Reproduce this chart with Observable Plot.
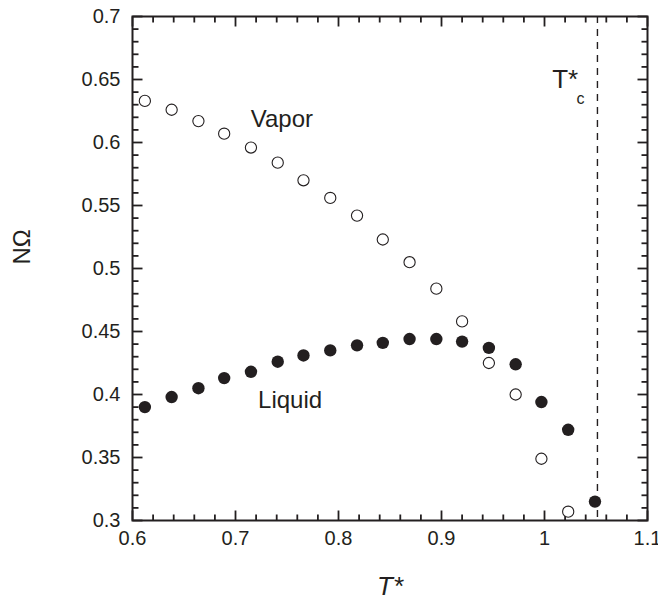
<!DOCTYPE html>
<html>
<head>
<meta charset="utf-8">
<script src="https://cdn.jsdelivr.net/npm/d3@7"></script>
<script src="https://cdn.jsdelivr.net/npm/@observablehq/plot@0.6"></script>
<style>
  html, body { margin: 0; padding: 0; background: #fff; }
  #chart { width: 658px; height: 606px; }
</style>
</head>
<body>
<div id="chart"></div>
<script>
// Reduced temperature T*
const temperature = [0.612, 0.638, 0.664, 0.689, 0.715, 0.741, 0.766, 0.792, 0.818, 0.843, 0.869, 0.895, 0.920, 0.946, 0.972, 0.997, 1.023, 1.049];
// NΩ, liquid branch (filled circles)
const liquid = [0.390, 0.398, 0.405, 0.413, 0.418, 0.426, 0.431, 0.435, 0.439, 0.441, 0.444, 0.444, 0.442, 0.437, 0.424, 0.394, 0.372, 0.315];
// NΩ, vapor branch (open circles)
const vapor = [0.633, 0.626, 0.617, 0.607, 0.596, 0.584, 0.570, 0.556, 0.542, 0.523, 0.505, 0.484, 0.458, 0.425, 0.400, 0.349, 0.307];
// critical temperature
const criticalT = [1.0514];

const xTicks = [0.6, 0.7, 0.8, 0.9, 1, 1.1];
const yTicks = [0.3, 0.35, 0.4, 0.45, 0.5, 0.55, 0.6, 0.65, 0.7];
const xMinor = [0.62, 0.64, 0.66, 0.68, 0.72, 0.74, 0.76, 0.78, 0.82, 0.84, 0.86, 0.88, 0.92, 0.94, 0.96, 0.98, 1.02, 1.04, 1.06, 1.08];
const yMinor = [0.31, 0.32, 0.33, 0.34, 0.36, 0.37, 0.38, 0.39, 0.41, 0.42, 0.43, 0.44, 0.46, 0.47, 0.48, 0.49,
                0.51, 0.52, 0.53, 0.54, 0.56, 0.57, 0.58, 0.59, 0.61, 0.62, 0.63, 0.64, 0.66, 0.67, 0.68, 0.69];

// annotation labels (anchored in data coordinates)
const seriesLabels = [
  {text: "Vapor", T: 0.745, v: 0.6182},
  {text: "Liquid", T: 0.753, v: 0.3953}
];
const criticalLabel = [{text: "T*", T: 1.0075, v: 0.650}];
const criticalSub = [{text: "c", T: 1.031, v: 0.6350}];

const liquidData = temperature.map((t, i) => ({T: t, v: liquid[i]}));
const vaporData = vapor.map((v, i) => ({T: temperature[i], v}));

const ink = "#231f20";
const font = "'Liberation Sans', Arial, Helvetica, sans-serif";

const W = 658, H = 606, mT = 16, mR = 11, mB = 86, mL = 132;
const xDomain = [0.6, 1.1], yDomain = [0.3, 0.7];
const innerW = W - mL - mR, innerH = H - mT - mB;
const pxX = (xDomain[1] - xDomain[0]) / innerW;
const pxY = (yDomain[1] - yDomain[0]) / innerH;

// inward tick segments on all four sides, as link marks
function tickSegments(values, side, len) {
  return values.map(d => {
    if (side === "bottom") return {x1: d, x2: d, y1: yDomain[0], y2: yDomain[0] + len * pxY};
    if (side === "top") return {x1: d, x2: d, y1: yDomain[1], y2: yDomain[1] - len * pxY};
    if (side === "left") return {x1: xDomain[0], x2: xDomain[0] + len * pxX, y1: d, y2: d};
    return {x1: xDomain[1], x2: xDomain[1] - len * pxX, y1: d, y2: d};
  });
}
const minorSegs = [
  ...tickSegments(xMinor, "bottom", 6), ...tickSegments(xMinor, "top", 6),
  ...tickSegments(yMinor, "left", 6), ...tickSegments(yMinor, "right", 6)
];
const majorSegs = [
  ...tickSegments(xTicks, "bottom", 10), ...tickSegments(xTicks, "top", 10),
  ...tickSegments(yTicks, "left", 10), ...tickSegments(yTicks, "right", 10)
];

const chart = Plot.plot({
  width: W,
  height: H,
  marginTop: mT,
  marginRight: mR,
  marginBottom: mB,
  marginLeft: mL,
  style: {fontFamily: font, fontSize: "20px", color: ink, background: "#fff", overflow: "visible"},
  x: {domain: xDomain, ticks: xTicks, tickFormat: d => String(d), tickSize: 0, tickPadding: 10, label: null},
  y: {domain: yDomain, ticks: yTicks, tickFormat: d => String(d), tickSize: 0, tickPadding: 12, label: null},
  marks: [
    Plot.ruleX(criticalT, {x: d => d, stroke: ink, strokeWidth: 1.4, strokeDasharray: "7,6"}),
    Plot.link(minorSegs, {x1: "x1", y1: "y1", x2: "x2", y2: "y2", stroke: ink, strokeWidth: 1.8}),
    Plot.link(majorSegs, {x1: "x1", y1: "y1", x2: "x2", y2: "y2", stroke: ink, strokeWidth: 1.8}),
    Plot.frame({stroke: ink, strokeWidth: 2}),
    Plot.dot(vaporData, {x: "T", y: "v", r: 5.6, fill: "white", stroke: ink, strokeWidth: 1.1}),
    Plot.dot(liquidData, {x: "T", y: "v", r: 6.2, fill: ink, stroke: "none"}),
    Plot.text(seriesLabels, {x: "T", y: "v", text: "text", fontSize: 24, fill: ink}),
    Plot.text(criticalLabel, {x: "T", y: "v", text: "text", fontSize: 26, textAnchor: "start", fill: ink}),
    Plot.text(criticalSub, {x: "T", y: "v", text: "text", fontSize: 16, textAnchor: "start", fill: ink}),
    Plot.text(["NΩ"], {frameAnchor: "left", rotate: -90, dx: -110, dy: -4, fontSize: 24, fill: ink}),
    Plot.text(["T*"], {frameAnchor: "bottom", dy: 74, fontSize: 26, fontStyle: "italic", fill: ink})
  ]
});
document.getElementById("chart").appendChild(chart);
</script>
</body>
</html>
